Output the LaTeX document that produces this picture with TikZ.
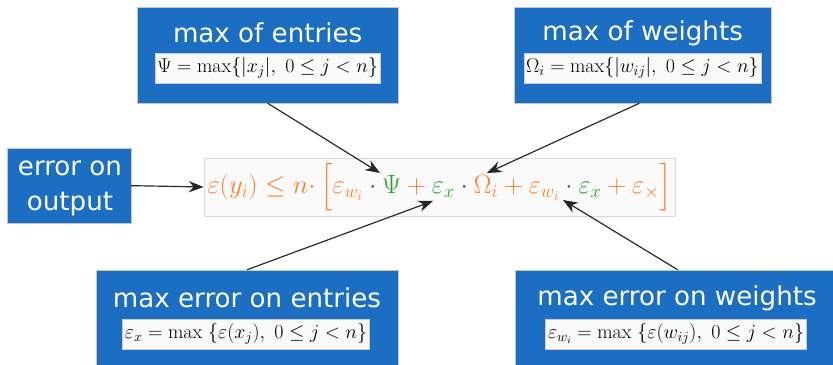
\RequirePackage{fix-cm}
\documentclass[tikz,border=0pt]{standalone}
\usepackage{fontspec}
\usepackage{amsmath,amssymb}
\usepackage{tikz}
\usetikzlibrary{arrows.meta,positioning}
\newfontfamily\boxfont{DejaVu Sans}
\definecolor{boxblue}{HTML}{1B6EC2}
\definecolor{errorange}{HTML}{FF7F2A}
\definecolor{errgreen}{HTML}{2CA02C}
\definecolor{dotgray}{HTML}{555555}
\newcommand{\gdot}{\mathbin{\textcolor{dotgray}{\cdot}}}

\begin{document}
\begin{tikzpicture}[
    bluebox/.style={draw=gray!45, line width=0.4pt, fill=boxblue, minimum height=2.88cm},
    title/.style={text=white, font=\boxfont\fontsize{22.3}{28}\selectfont, inner sep=0pt, align=center},
    defbox/.style={draw=gray!40, line width=0.3pt, fill=gray!4, inner xsep=2pt, inner ysep=4pt, font=\fontsize{17}{20}\selectfont},
    arr/.style={-{Stealth[length=4.4mm, width=3.4mm]}, line width=1pt, black!85}
]
\useasboundingbox (0,0) rectangle (24.99,-10.95);

\node[bluebox, minimum width=7.83cm] (entries) at (8.03,-1.65) {};
\node[title] (entriest) at (8.03,-0.99) {max of entries};
\node[defbox] (entriesf) at (8.03,-2.04) {$\Psi = \max\{|x_j|,\ 0 \leq j < n\}$};

\node[bluebox, minimum width=7.71cm] (weights) at (19.28,-1.65) {};
\node[title] (weightst) at (19.28,-0.99) {max of weights};
\node[defbox] (weightsf) at (19.27,-2.04) {$\Omega_i = \max\{|w_{ij}|,\ 0 \leq j < n\}$};

\node[bluebox, minimum width=3.72cm, minimum height=2.25cm] (out) at (2.07,-5.57) {};
\node[title, font=\boxfont\fontsize{22.3}{30}\selectfont] (outt) at (2.1,-5.66) {error on\\ output};

\node[bluebox, minimum width=9.06cm] (errx) at (7.41,-9.54) {};
\node[title] (errxt) at (7.41,-8.94) {max error on entries};
\node[defbox] (errxf) at (7.38,-10.02) {$\varepsilon_x = \max\ \{\varepsilon(x_j),\ 0 \leq j < n\}$};

\node[bluebox, minimum width=9.75cm] (errw) at (20.33,-9.54) {};
\node[title] (errwt) at (20.31,-8.94) {max error on weights};
\node[defbox] (errwf) at (20.28,-10.02) {$\varepsilon_{w_i} = \max\ \{\varepsilon(w_{ij}),\ 0 \leq j < n\}$};

\node[draw=gray!30, line width=0.4pt, fill=gray!4, minimum width=13.83cm, minimum height=1.74cm,
      text=errorange, font=\fontsize{22.5}{27}\selectfont] (bound) at (13.19,-5.61)
    {$\varepsilon(y_i) \leq n{\cdot}\,\Big[\varepsilon_{w_i} \gdot \textcolor{errgreen}{\Psi} + \textcolor{errgreen}{\varepsilon_x} \gdot \Omega_i + \varepsilon_{w_i} \gdot \textcolor{errgreen}{\varepsilon_x} + \varepsilon_\times\Big]$};

\coordinate (psi) at (11.40,-5.19);
\coordinate (omega) at (14.61,-5.19);
\coordinate (epsx) at (12.99,-6.03);
\coordinate (epsw) at (16.89,-6.00);

\draw[arr] (entries.south) -- (psi);
\draw[arr] ([xshift=-0.1cm]weights.south) -- (omega);
\draw[arr] (errx.north) -- (epsx);
\draw[arr] (errw.north) -- (epsw);
\draw[arr] (out.east) -- (bound.west);
\end{tikzpicture}
\end{document}
